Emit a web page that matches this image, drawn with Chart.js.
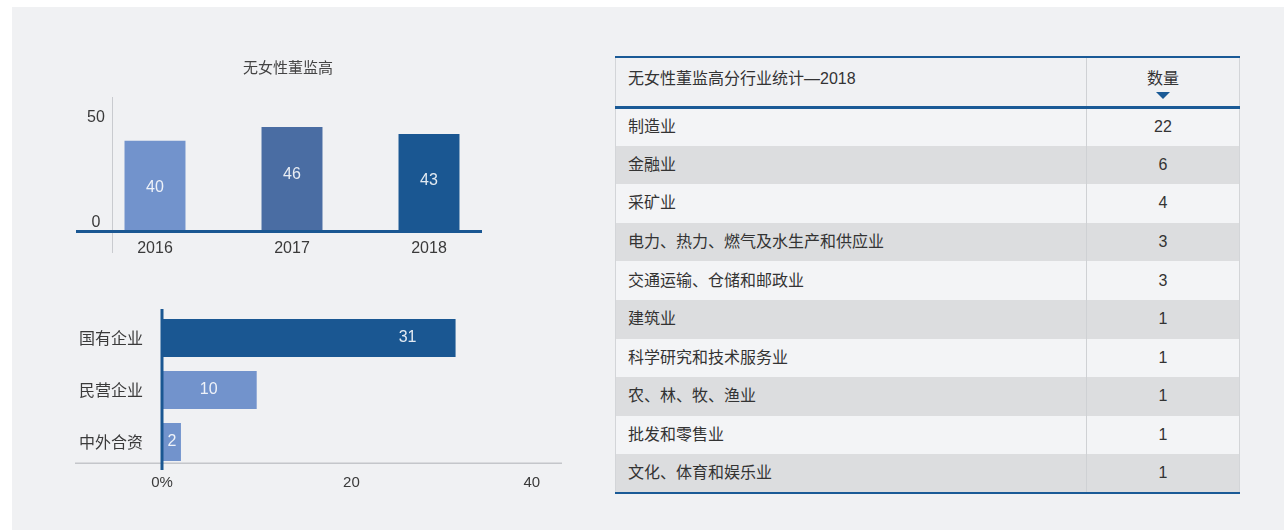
<!DOCTYPE html>
<html>
<head>
<meta charset="utf-8">
<script src="https://cdn.jsdelivr.net/npm/chart.js@4.4.1/dist/chart.umd.min.js"></script>
<style>
  body { margin: 0; width: 1284px; height: 530px; overflow: hidden; background: #fff;
         font-family: "Liberation Sans", "Noto Sans CJK SC", sans-serif; }
  #panel { position: absolute; left: 12px; top: 7px; width: 1272px; height: 523px; background: #f0f1f3; }
  canvas { position: absolute; }
  #yearChart { left: 60px; top: 40px; }
  #ownerChart { left: 60px; top: 290px; }
  #industryTable { position: absolute; left: 615px; top: 56px; width: 625px;
                   border-collapse: collapse; table-layout: fixed; color: #333; font-size: 16px; }
  #industryTable thead tr { border-top: 2px solid #1a5a96; border-bottom: 3px solid #1a5a96; }
  #industryTable tbody tr:last-child { border-bottom: 2px solid #1a5a96; }
  #industryTable th { font-weight: normal; height: 50px; vertical-align: top; padding: 12px 0 0 0;
                      line-height: 18px; box-sizing: border-box; }
  #industryTable td { height: 38.6px; padding: 0; line-height: 18px; box-sizing: border-box; }
  #industryTable .name { text-align: left; padding-left: 12px; border-left: 1px solid #d3d5d8; }
  #industryTable .num { width: 153px; text-align: center; border-left: 1px solid #cfd1d4; border-right: 1px solid #d3d5d8; }
  #industryTable tbody tr:nth-child(odd) { background: #f3f4f6; }
  #industryTable tbody tr:nth-child(even) { background: #dcdddf; }
  .caret { display: block; width: 0; height: 0; margin: 4px auto 0; border-left: 7px solid transparent;
           border-right: 7px solid transparent; border-top: 7px solid #1a5a96; }
</style>
</head>
<body>
<div id="panel"></div>
<canvas id="yearChart" width="450" height="230"></canvas>
<canvas id="ownerChart" width="520" height="210"></canvas>
<table id="industryTable">
  <thead><tr><th class="name">无女性董监高分行业统计—2018</th><th class="num">数量<span class="caret"></span></th></tr></thead>
  <tbody></tbody>
</table>
<script>
const years = ['2016', '2017', '2018'];
const noFemaleCounts = [40, 46, 43];
const yearTicks = [0, 50];

const ownership = ['国有企业', '民营企业', '中外合资'];
const ownershipCounts = [31, 10, 2];
const shareTicks = [0, 20, 40];
const shareTickLabels = ['0%', '20', '40'];

const industries = ['制造业', '金融业', '采矿业', '电力、热力、燃气及水生产和供应业', '交通运输、仓储和邮政业',
  '建筑业', '科学研究和技术服务业', '农、林、牧、渔业', '批发和零售业', '文化、体育和娱乐业'];
const industryCounts = [22, 6, 4, 3, 3, 1, 1, 1, 1, 1];

const BLUE = '#1a5792';
const LIGHT = '#7293cc';
const MID = '#4a6da3';
const TEXT = '#3a3a3a';
const LATIN = '"Liberation Sans", "Noto Sans CJK SC", sans-serif';

// table on the right
const tbody = document.querySelector('#industryTable tbody');
industries.forEach((name, i) => {
    const tr = document.createElement('tr');
    tr.innerHTML = `<td class="name">${name}</td><td class="num">${industryCounts[i]}</td>`;
    tbody.appendChild(tr);
});

// vertical bars: boards without female directors per year
const yearDecor = {
    id: 'yearDecor',
    beforeDatasetsDraw(chart) {
        const ctx = chart.ctx;
        ctx.save();
        ctx.strokeStyle = '#c9cbcf';
        ctx.lineWidth = 1;
        ctx.beginPath();
        ctx.moveTo(52.5, 57);
        ctx.lineTo(52.5, 213);
        ctx.stroke();
        ctx.restore();
    },
    afterDatasetsDraw(chart) {
        const ctx = chart.ctx;
        const y = chart.scales.y;
        const base = y.getPixelForValue(0);
        ctx.save();
        ctx.strokeStyle = BLUE;
        ctx.lineWidth = 3;
        ctx.beginPath();
        ctx.moveTo(16, base - 0.5);
        ctx.lineTo(422, base - 0.5);
        ctx.stroke();

        ctx.textAlign = 'center';
        ctx.textBaseline = 'middle';
        ctx.font = '16px ' + LATIN;
        chart.getDatasetMeta(0).data.forEach((bar, i) => {
            ctx.fillStyle = 'rgba(255,255,255,0.88)';
            ctx.fillText(noFemaleCounts[i], bar.x, bar.y + 47);
            ctx.fillStyle = TEXT;
            ctx.fillText(years[i], bar.x, base + 16.5);
        });
        yearTicks.forEach(v => {
            const py = y.getPixelForValue(v) - (v === 0 ? 9 : 0);
            ctx.fillText(String(v), 36, py);
        });

        ctx.font = '15px "Noto Sans CJK SC", sans-serif';
        ctx.fillStyle = '#444';
        ctx.fillText('无女性董监高', 228, 27);
        ctx.restore();
    }
};

new Chart(document.getElementById('yearChart'), {
    type: 'bar',
    data: {
        labels: years,
        datasets: [{
            data: noFemaleCounts,
            backgroundColor: [LIGHT, MID, BLUE],
            barPercentage: 0.445,
            categoryPercentage: 1,
        }],
    },
    options: {
        responsive: false,
        animation: false,
        layout: { padding: { left: 26.5, right: 12.5, top: 55.2, bottom: 38 } },
        scales: {
            x: { display: false },
            y: { display: false, min: 0, max: 60 },
        },
        plugins: { legend: { display: false }, tooltip: { enabled: false } },
    },
    plugins: [yearDecor],
});

// horizontal bars: ownership type
const ownerDecor = {
    id: 'ownerDecor',
    beforeDatasetsDraw(chart) {
        const ctx = chart.ctx;
        ctx.save();
        ctx.strokeStyle = '#c4c6ca';
        ctx.lineWidth = 1.5;
        ctx.beginPath();
        ctx.moveTo(15, 173.3);
        ctx.lineTo(502, 173.3);
        ctx.stroke();
        ctx.restore();
    },
    afterDatasetsDraw(chart) {
        const ctx = chart.ctx;
        const x = chart.scales.x;
        const zero = x.getPixelForValue(0);
        ctx.save();
        ctx.strokeStyle = BLUE;
        ctx.lineWidth = 3;
        ctx.beginPath();
        ctx.moveTo(zero, 19);
        ctx.lineTo(zero, 180);
        ctx.stroke();

        ctx.textBaseline = 'middle';
        chart.getDatasetMeta(0).data.forEach((bar, i) => {
            ctx.font = '16px ' + LATIN;
            ctx.textAlign = 'center';
            ctx.fillStyle = 'rgba(255,255,255,0.88)';
            ctx.fillText(ownershipCounts[i], Math.max(bar.x - 48, zero + 10), bar.y);
            ctx.font = '16px "Noto Sans CJK SC", sans-serif';
            ctx.textAlign = 'right';
            ctx.fillStyle = TEXT;
            ctx.fillText(ownership[i], 83, bar.y);
        });

        ctx.font = '15px ' + LATIN;
        ctx.textAlign = 'center';
        ctx.fillStyle = TEXT;
        shareTicks.forEach((v, i) => {
            const last = i === shareTicks.length - 1;
            ctx.fillText(shareTickLabels[i], x.getPixelForValue(v) - (last ? 9 : 0), 192.7);
        });
        ctx.restore();
    }
};

new Chart(document.getElementById('ownerChart'), {
    type: 'bar',
    data: {
        labels: ownership,
        datasets: [{
            data: ownershipCounts,
            backgroundColor: [BLUE, LIGHT, LIGHT],
            barPercentage: 0.73,
            categoryPercentage: 1,
        }],
    },
    options: {
        indexAxis: 'y',
        responsive: false,
        animation: false,
        layout: { padding: { left: 102, right: 39.2, top: 22, bottom: 32 } },
        scales: {
            x: { display: false, min: 0, max: 40 },
            y: { display: false },
        },
        plugins: { legend: { display: false }, tooltip: { enabled: false } },
    },
    plugins: [ownerDecor],
});
</script>
</body>
</html>
